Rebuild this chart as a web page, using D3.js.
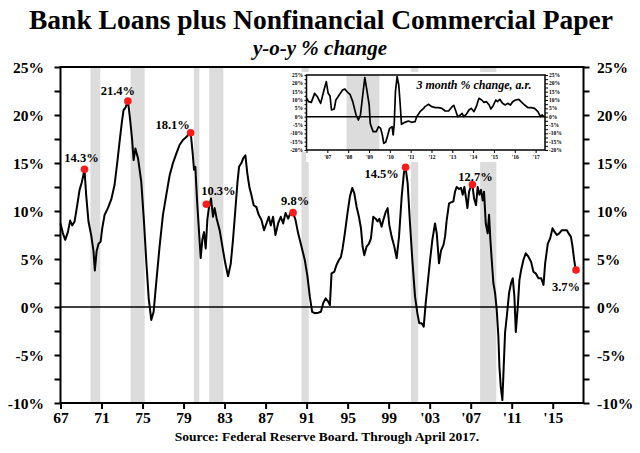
<!DOCTYPE html>
<html><head><meta charset="utf-8">
<script src="https://cdn.jsdelivr.net/npm/d3@7"></script>
<style>
html,body{margin:0;padding:0;background:#fff;}
svg{display:block;}
text{font-family:"Liberation Serif","Times New Roman",serif;font-weight:bold;fill:#000;}
</style></head>
<body>
<svg id="chart" width="640" height="453"></svg>
<script>
// ---------- DATA ----------
const titleText = "Bank Loans plus Nonfinancial Commercial Paper";
const subtitleText = "y-o-y % change";
const sourceText = "Source: Federal Reserve Board. Through April 2017.";
const insetTitle = "3 month % change, a.r.";

const yTicks = [-10, -5, 0, 5, 10, 15, 20, 25];
const xTickYears = [1967, 1971, 1975, 1979, 1983, 1987, 1991, 1995, 1999, 2003, 2007, 2011, 2015];
const xTickLabels = ["67", "71", "75", "79", "83", "87", "91", "95", "99", "'03", "'07", "'11", "'15"];

const recessions = [[1969.92, 1970.88], [1973.83, 1975.21], [1980.0, 1980.54], [1981.5, 1982.88],
  [1990.5, 1991.21], [2001.17, 2001.88], [2007.92, 2009.5]];

// y-o-y % change [year, value]
const yoy = [
[1967.00,8.7],[1967.23,7.7],[1967.46,7.0],[1967.72,7.8],[1967.94,9.0],[1968.14,8.5],[1968.37,8.9],
[1968.63,10.6],[1968.86,12.2],[1969.08,13.0],[1969.34,14.3],[1969.50,11.7],[1969.73,8.9],[1969.99,7.5],
[1970.22,5.8],[1970.35,3.8],[1970.52,5.8],[1970.71,6.6],[1970.91,6.8],[1971.07,8.2],[1971.30,9.6],
[1971.62,10.3],[1971.95,11.2],[1972.27,12.7],[1972.53,15.0],[1972.76,17.2],[1972.99,19.3],[1973.15,20.5],
[1973.35,20.8],[1973.58,21.5],[1973.77,19.7],[1973.97,17.6],[1974.13,15.3],[1974.30,16.5],[1974.56,15.5],
[1974.88,13.0],[1975.14,8.9],[1975.37,4.7],[1975.60,0.9],[1975.85,-1.35],[1976.08,-0.5],[1976.34,2.6],
[1976.67,6.4],[1976.99,9.6],[1977.32,11.7],[1977.64,13.7],[1977.97,15.0],[1978.30,16.0],[1978.62,16.9],
[1978.94,17.4],[1979.27,17.7],[1979.60,18.1],[1979.69,18.2],[1979.89,16.0],[1980.02,14.3],[1980.15,14.6],
[1980.31,11.2],[1980.50,8.0],[1980.67,5.1],[1980.83,7.0],[1980.99,7.8],[1981.16,6.1],[1981.32,9.1],
[1981.48,10.4],[1981.68,11.3],[1981.87,9.4],[1982.03,10.3],[1982.23,9.2],[1982.52,8.0],[1982.85,5.9],
[1983.08,4.5],[1983.34,3.2],[1983.60,4.5],[1983.82,7.0],[1984.05,10.1],[1984.25,12.9],[1984.41,14.6],
[1984.64,15.0],[1984.83,15.5],[1985.03,15.8],[1985.22,13.9],[1985.42,12.5],[1985.61,11.7],[1985.84,10.6],
[1986.10,10.4],[1986.33,9.6],[1986.59,9.1],[1986.85,8.0],[1987.08,8.7],[1987.31,9.4],[1987.50,8.5],
[1987.73,9.4],[1987.96,7.5],[1988.22,8.7],[1988.48,9.4],[1988.71,8.7],[1988.94,9.8],[1989.20,9.2],
[1989.46,9.9],[1989.68,9.8],[1989.91,9.1],[1990.17,7.7],[1990.50,6.3],[1990.82,4.9],[1991.08,3.2],
[1991.31,1.1],[1991.54,-0.5],[1991.80,-0.65],[1992.13,-0.6],[1992.39,-0.5],[1992.62,0.4],[1992.85,0.9],
[1993.11,0.55],[1993.27,0.2],[1993.43,3.5],[1993.69,3.65],[1993.92,4.4],[1994.15,4.9],[1994.34,5.2],
[1994.51,6.1],[1994.73,7.7],[1994.99,9.8],[1995.22,11.5],[1995.45,12.4],[1995.65,11.85],[1995.87,10.45],
[1996.10,9.4],[1996.30,8.2],[1996.46,6.3],[1996.62,5.4],[1996.85,6.3],[1997.08,6.6],[1997.27,7.15],
[1997.50,9.4],[1997.73,9.2],[1997.92,8.9],[1998.09,9.2],[1998.31,8.35],[1998.48,9.06],[1998.71,9.9],
[1998.90,10.3],[1999.06,8.55],[1999.29,7.33],[1999.55,6.3],[1999.78,5.07],[2000.01,7.33],[2000.27,11.5],
[2000.50,14.1],[2000.66,14.45],[2000.85,12.9],[2001.08,8.7],[2001.31,4.9],[2001.57,1.1],[2001.80,-0.66],
[2001.99,-1.7],[2002.22,-1.7],[2002.42,-2.05],[2002.61,0.38],[2002.81,2.5],[2003.04,4.9],[2003.26,7.0],
[2003.52,8.7],[2003.69,7.67],[2003.91,4.55],[2004.11,5.9],[2004.34,6.45],[2004.50,7.33],[2004.66,9.06],
[2004.89,10.8],[2005.08,10.9],[2005.31,11.0],[2005.47,12.0],[2005.63,12.5],[2005.86,12.3],[2006.06,12.4],
[2006.22,11.7],[2006.38,12.5],[2006.55,11.3],[2006.68,10.3],[2006.84,12.0],[2007.00,12.5],[2007.16,12.8],
[2007.33,11.3],[2007.52,10.6],[2007.68,12.5],[2007.85,11.7],[2008.01,12.2],[2008.17,11.1],[2008.30,12.0],
[2008.47,8.7],[2008.66,7.67],[2008.79,9.6],[2008.92,7.0],[2009.05,4.9],[2009.21,2.5],[2009.38,1.45],
[2009.54,-0.3],[2009.70,-3.1],[2009.80,-6.2],[2009.93,-8.3],[2010.09,-9.7],[2010.22,-6.2],[2010.35,-2.7],
[2010.55,-0.66],[2010.74,1.45],[2010.94,2.5],[2011.10,3.0],[2011.26,1.1],[2011.40,-2.6],[2011.59,0.03],
[2011.75,2.8],[2011.92,3.85],[2012.14,4.9],[2012.37,5.6],[2012.63,5.24],[2012.89,4.7],[2013.12,3.65],
[2013.35,3.5],[2013.61,3.0],[2013.87,3.0],[2014.10,2.3],[2014.26,4.55],[2014.52,6.6],[2014.75,7.15],
[2014.98,8.2],[2015.17,7.85],[2015.40,7.5],[2015.63,7.67],[2015.89,8.0],[2016.15,8.0],[2016.38,8.0],
[2016.54,7.67],[2016.77,7.33],[2016.93,6.3],[2017.09,4.9],[2017.25,3.8]
];

const peakYears  = [1969.34, 1973.57, 1979.69, 1981.22, 1989.68, 2000.65, 2007.17, 2017.27];
const peakValues = [14.35, 21.45, 18.15, 10.7, 9.83, 14.55, 12.75, 3.85];
const peakLabels = ["14.3%", "21.4%", "18.1%", "10.3%", "9.8%", "14.5%", "12.7%", "3.7%"];

// inset: 3 month % change, annualized [year, value]
const inset3m = [
[2006.00,11],[2006.11,9],[2006.23,8.6],[2006.39,14],[2006.52,12],[2006.68,8],[2006.76,12],[2006.84,16],
[2006.95,21],[2007.04,14],[2007.13,12.4],[2007.20,4],[2007.33,4.6],[2007.41,10],[2007.57,13],[2007.73,16],
[2007.84,16.6],[2007.97,14.6],[2008.09,13.4],[2008.22,9],[2008.38,1],[2008.49,-2],[2008.59,1],[2008.70,13],
[2008.80,23.4],[2008.91,15],[2009.01,7],[2009.06,-4],[2009.11,-6],[2009.20,-9],[2009.35,-9],[2009.46,-6],
[2009.56,-7],[2009.64,-11],[2009.71,-16],[2009.80,-15.4],[2009.88,-12],[2009.99,-7],[2010.11,-6],[2010.16,-11],
[2010.21,-5],[2010.27,15],[2010.35,24],[2010.43,19],[2010.50,7],[2010.56,-4.6],[2010.72,-3.4],[2010.89,-2.6],
[2011.05,-3.4],[2011.21,-3],[2011.29,0],[2011.45,3],[2011.62,5],[2011.69,6],[2011.85,7.4],[2012.02,6],
[2012.18,5.4],[2012.34,5.4],[2012.50,5],[2012.66,3.4],[2012.82,3.4],[2012.99,6],[2013.07,6.8],[2013.15,4],
[2013.26,0],[2013.39,1],[2013.47,2],[2013.55,0],[2013.67,1.4],[2013.80,4],[2013.91,5],[2014.04,3],
[2014.15,6],[2014.28,11],[2014.41,10],[2014.52,8.6],[2014.64,9],[2014.77,7],[2014.85,4.6],[2014.96,6.6],
[2015.09,10],[2015.17,9],[2015.28,10.4],[2015.41,8],[2015.54,7],[2015.66,8],[2015.79,7],[2015.90,9],
[2016.03,10],[2016.19,10.4],[2016.30,9],[2016.47,7],[2016.63,5.4],[2016.79,5.4],[2016.95,5],[2017.11,3],
[2017.23,0],[2017.32,1],[2017.39,0]
];
const insetYTicks = [-20, -15, -10, -5, 0, 5, 10, 15, 20, 25];
const insetXYears = [2007, 2008, 2009, 2010, 2011, 2012, 2013, 2014, 2015, 2016, 2017];
const insetXLabels = ["'07", "'08", "'09", "'10", "'11", "'12", "'13", "'14", "'15", "'16", "'17"];
const insetRecessions = [[2007.92, 2009.5]];

// ---------- DRAW ----------
const svg = d3.select("#chart");
const BAND = "#dcdcdc";
const x = d3.scaleLinear().domain([1967, 2018]).range([60.5, 583.5]);
const y = d3.scaleLinear().domain([-10, 25]).range([403, 67]);

// recession bands
svg.append("g").selectAll("rect").data(recessions).join("rect")
  .attr("x", d => x(d[0])).attr("width", d => x(d[1]) - x(d[0]))
  .attr("y", y(25)).attr("height", y(-10) - y(25)).attr("fill", BAND);

// zero line
svg.append("line").attr("x1", x(1967)).attr("x2", x(2018)).attr("y1", y(0)).attr("y2", y(0))
  .attr("stroke", "#000").attr("stroke-width", 1.6);

// main line
svg.append("path").datum(yoy)
  .attr("d", d3.line().x(d => x(d[0])).y(d => y(d[1])))
  .attr("fill", "none").attr("stroke", "#000").attr("stroke-width", 2).attr("stroke-linejoin", "round");

// frame
svg.append("rect").attr("x", x(1967)).attr("y", y(25)).attr("width", x(2018) - x(1967)).attr("height", y(-10) - y(25))
  .attr("fill", "none").attr("stroke", "#000").attr("stroke-width", 2);

// axes
const minorY = d3.range(-10, 25.01, 2.5);
const yl = d3.axisLeft(y).tickValues(minorY).tickSize(6).tickFormat("");
const yr = d3.axisRight(y).tickValues(minorY).tickSize(6).tickFormat("");
svg.append("g").attr("transform", `translate(${x(1967)},0)`).call(yl).call(g => g.select(".domain").remove())
  .selectAll("line").attr("stroke-width", 2);
svg.append("g").attr("transform", `translate(${x(2018)},0)`).call(yr).call(g => g.select(".domain").remove())
  .selectAll("line").attr("stroke-width", 2);
svg.append("g").selectAll("text").data(yTicks).join("text")
  .attr("x", 44).attr("y", d => y(d) + 5.5).attr("text-anchor", "end").attr("font-size", 15.5).text(d => d + "%");
svg.append("g").selectAll("text").data(yTicks).join("text")
  .attr("x", 597).attr("y", d => y(d) + 5.5).attr("text-anchor", "start").attr("font-size", 15.5).text(d => d + "%");

const xa = d3.axisBottom(x).tickValues(xTickYears).tickSize(6).tickFormat((d, i) => xTickLabels[i]);
const xg = svg.append("g").attr("transform", `translate(0,${y(-10)})`).call(xa);
xg.select(".domain").remove();
xg.selectAll("line").attr("stroke-width", 2);
xg.selectAll("text").attr("font-size", 15.5).attr("font-family", '"Liberation Serif",serif')
  .attr("font-weight", "bold").attr("fill", "#000").attr("dy", null).attr("y", 20);

// peak dots + labels
const labelOffsets = [[-3, -12], [-10, -11], [-18, -8], [12, -14], [2, -12], [-24, 6], [3, -8.5], [-10, 16]];
const peaks = peakYears.map((t, i) => ({ t, v: peakValues[i], lab: peakLabels[i], off: labelOffsets[i] }));
svg.append("g").selectAll("circle").data(peaks).join("circle")
  .attr("cx", d => x(d.t)).attr("cy", d => y(d.v)).attr("r", 3.8).attr("fill", "#ff1a1a");
svg.append("g").selectAll("text").data(peaks).join("text")
  .attr("x", d => x(d.t) + d.off[0]).attr("y", d => y(d.v) + d.off[1] + 4.5)
  .attr("text-anchor", "middle").attr("font-size", 12.5).text(d => d.lab);

// titles
svg.append("text").attr("x", 321).attr("y", 29).attr("text-anchor", "middle").attr("font-size", 27.5).text(titleText);
svg.append("text").attr("x", 320).attr("y", 55).attr("text-anchor", "middle").attr("font-size", 21)
  .attr("font-style", "italic").text(subtitleText);
svg.append("text").attr("x", 327).attr("y", 441).attr("text-anchor", "middle").attr("font-size", 13.5).text(sourceText);

// ---------- INSET ----------
const ix = d3.scaleLinear().domain([2006, 2017.45]).range([306.5, 545]);
const iy = d3.scaleLinear().domain([-20, 25]).range([150, 75]);
const ig = svg.append("g");
ig.append("rect").attr("x", 283).attr("y", 72).attr("width", 292).attr("height", 80).attr("fill", "#fff");
ig.append("rect").attr("x", 306).attr("y", 150).attr("width", 240).attr("height", 12).attr("fill", "#fff");
ig.selectAll("rect.rb").data(insetRecessions).join("rect").attr("class", "rb")
  .attr("x", d => ix(d[0])).attr("width", d => ix(d[1]) - ix(d[0]))
  .attr("y", iy(25)).attr("height", iy(-20) - iy(25)).attr("fill", BAND);
ig.append("line").attr("x1", ix(2006)).attr("x2", ix(2017.45)).attr("y1", iy(0)).attr("y2", iy(0))
  .attr("stroke", "#000").attr("stroke-width", 1.5);
ig.append("path").datum(inset3m)
  .attr("d", d3.line().x(d => ix(d[0])).y(d => iy(d[1])))
  .attr("fill", "none").attr("stroke", "#000").attr("stroke-width", 1.7).attr("stroke-linejoin", "round");
ig.append("rect").attr("x", ix(2006)).attr("y", iy(25)).attr("width", ix(2017.45) - ix(2006)).attr("height", iy(-20) - iy(25))
  .attr("fill", "none").attr("stroke", "#000").attr("stroke-width", 1.5);
const iMinor = d3.range(-20, 25.01, 2.5);
const iyl = ig.append("g").attr("transform", `translate(${ix(2006)},0)`)
  .call(d3.axisLeft(iy).tickValues(iMinor).tickSize(2).tickFormat(""));
iyl.select(".domain").remove();
const iyr = ig.append("g").attr("transform", `translate(${ix(2017.45)},0)`)
  .call(d3.axisRight(iy).tickValues(iMinor).tickSize(3).tickFormat(""));
iyr.select(".domain").remove();
ig.append("g").selectAll("text").data(insetYTicks).join("text")
  .attr("x", 303).attr("y", d => iy(d) + 2).attr("text-anchor", "end").attr("font-size", 5.5).text(d => d + "%");
ig.append("g").selectAll("text").data(insetYTicks).join("text")
  .attr("x", 549).attr("y", d => iy(d) + 2).attr("text-anchor", "start").attr("font-size", 5.5).text(d => d + "%");
const ixa = ig.append("g").attr("transform", `translate(0,${iy(-20)})`)
  .call(d3.axisBottom(ix).tickValues([2006].concat(insetXYears)).tickSize(3)
    .tickFormat(d => { const k = insetXYears.indexOf(d); return k < 0 ? "" : insetXLabels[k]; }));
ixa.select(".domain").remove();
ixa.selectAll("text").attr("font-size", 5.5).attr("font-family", '"Liberation Serif",serif')
  .attr("font-weight", "bold").attr("fill", "#000").attr("dy", null).attr("y", 9);
ig.append("text").attr("x", 474).attr("y", 89).attr("text-anchor", "middle").attr("font-size", 12)
  .attr("font-style", "italic").text(insetTitle);
</script>
</body></html>
